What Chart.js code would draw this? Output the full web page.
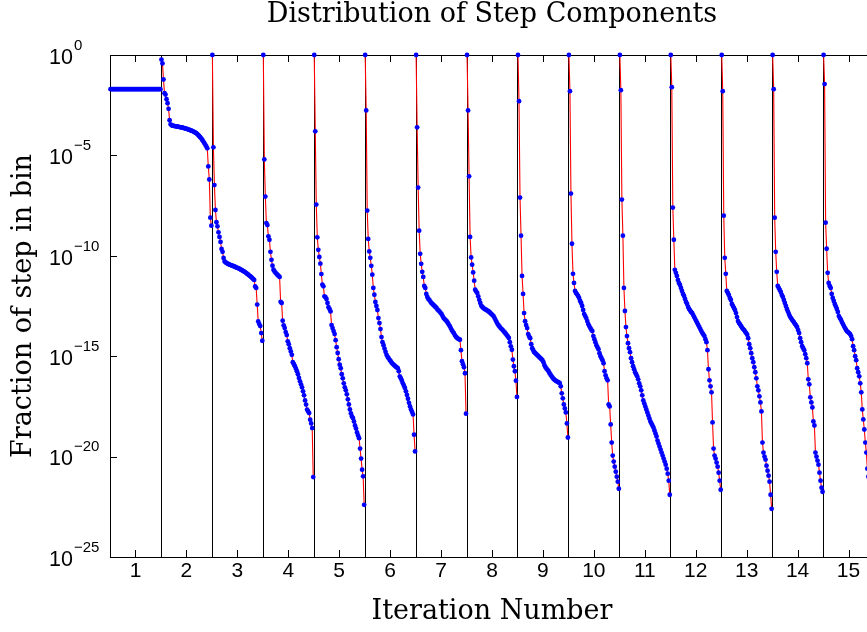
<!DOCTYPE html>
<html>
<head>
<meta charset="utf-8">
<title>Distribution of Step Components</title>
<script src="https://cdn.jsdelivr.net/npm/chart.js@4.4.1/dist/chart.umd.min.js"></script>
<style>
  html, body { margin: 0; padding: 0; overflow: hidden; background: #fff; }
  canvas { display: block; }
</style>
</head>
<body>
<canvas id="stepChart" width="880" height="632"></canvas>
<script>
// bins per iteration; each iteration's sorted bin fractions fill one unit on x
const binsPerIteration = 50;
const iterationNumbers = [1, 2, 3, 4, 5, 6, 7, 8, 9, 10, 11, 12, 13, 14, 15];
const yTickExponents = [0, -5, -10, -15, -20, -25];

// log10 of the fraction of step in each bin
const log10Iter1 = [
  -1.7, -1.7, -1.7, -1.7, -1.7, -1.7, -1.7, -1.7, -1.7, -1.7,
  -1.7, -1.7, -1.7, -1.7, -1.7, -1.7, -1.7, -1.7, -1.7, -1.7,
  -1.7, -1.7, -1.7, -1.7, -1.7, -1.7, -1.7, -1.7, -1.7, -1.7,
  -1.7, -1.7, -1.7, -1.7, -1.7, -1.7, -1.7, -1.7, -1.7, -1.7,
  -1.7, -1.7, -1.7, -1.7, -1.7, -1.7, -1.7, -1.7, -1.7, -1.7,
];
const log10Iter2 = [
  -0.23, -0.42, -1.22, -1.9, -1.97, -2.2, -2.4, -2.68, -3.25, -3.45,
  -3.5, -3.52, -3.53, -3.54, -3.55, -3.56, -3.57, -3.58, -3.59, -3.6,
  -3.61, -3.62, -3.64, -3.65, -3.67, -3.68, -3.7, -3.72, -3.74, -3.76,
  -3.78, -3.8, -3.83, -3.86, -3.89, -3.93, -3.98, -4.03, -4.09, -4.15,
  -4.22, -4.3, -4.38, -4.46, -4.55, -4.65, -5.55, -6.2, -8.1, -8.5,
];
const log10Iter3 = [
  0, -4.6, -6.48, -7.72, -8.33, -8.53, -8.83, -9.06, -9.31, -9.66,
  -9.8, -10.11, -10.28, -10.33, -10.36, -10.39, -10.42, -10.44, -10.46, -10.48,
  -10.5, -10.52, -10.54, -10.57, -10.59, -10.61, -10.63, -10.66, -10.69, -10.72,
  -10.75, -10.78, -10.81, -10.85, -10.89, -10.93, -10.97, -11.01, -11.05, -11.1,
  -11.15, -11.2, -11.53, -11.6, -12.43, -13.27, -13.4, -13.5, -13.85, -14.23,
];
const log10Iter4 = [
  0, -5.2, -7.05, -8.37, -8.47, -9.03, -9.2, -9.8, -10.2, -10.49,
  -10.69, -10.78, -10.84, -10.9, -10.95, -11.0, -11.05, -12.29, -12.35, -13.23,
  -13.46, -13.6, -13.8, -13.95, -14.26, -14.4, -14.6, -14.76, -14.93, -15.3,
  -15.4, -15.5, -15.62, -15.75, -15.9, -16.08, -16.25, -16.4, -16.55, -16.75,
  -16.95, -17.2, -17.41, -17.66, -17.75, -17.83, -18.16, -18.35, -18.58, -21.02,
];
const log10Iter5 = [
  0, -3.8, -7.45, -9.08, -9.7, -10.06, -10.39, -10.91, -11.44, -11.52,
  -12.02, -12.06, -12.15, -12.35, -12.56, -12.65, -12.77, -13.45, -13.6, -13.75,
  -13.9, -14.2, -14.55, -14.84, -15.15, -15.42, -15.6, -15.9, -16.1, -16.35,
  -16.55, -16.7, -16.9, -17.15, -17.4, -17.65, -17.85, -18.0, -18.08, -18.25,
  -18.45, -18.6, -18.8, -18.95, -19.08, -19.6, -20.1, -20.65, -20.98, -22.4,
];
const log10Iter6 = [
  0, -2.76, -7.75, -9.16, -9.78, -10.1, -10.5, -10.94, -11.6, -11.94,
  -12.3, -12.5, -12.7, -13.1, -13.35, -13.65, -14.05, -14.3, -14.45, -14.62,
  -14.78, -14.93, -15.03, -15.1, -15.18, -15.25, -15.32, -15.38, -15.43, -15.47,
  -15.52, -15.56, -15.6, -15.75, -16.0, -16.1, -16.22, -16.35, -16.47, -16.58,
  -16.75, -16.93, -17.12, -17.32, -17.5, -17.65, -17.78, -17.9, -18.91, -19.74,
];
const log10Iter7 = [
  0, -3.6, -6.6, -8.75, -9.9, -10.4, -10.8, -11.05, -11.5, -11.6,
  -11.9, -12.05, -12.15, -12.2, -12.28, -12.35, -12.4, -12.45, -12.5, -12.55,
  -12.6, -12.68, -12.72, -12.78, -12.84, -12.9, -13.0, -13.1, -13.15, -13.2,
  -13.26, -13.33, -13.42, -13.5, -13.6, -13.7, -13.78, -13.85, -13.95, -14.03,
  -14.08, -14.12, -14.15, -14.18, -14.7, -15.25, -15.4, -15.55, -15.85, -17.86,
];
const log10Iter8 = [
  0, -2.76, -6.04, -9.06, -10.08, -10.44, -10.83, -11.24, -11.69, -11.78,
  -11.85, -12.02, -12.19, -12.35, -12.49, -12.55, -12.6, -12.64, -12.67, -12.7,
  -12.73, -12.77, -12.8, -12.86, -12.9, -12.95, -13.0, -13.1, -13.2, -13.3,
  -13.4, -13.47, -13.53, -13.6, -13.65, -13.7, -13.76, -13.82, -13.88, -13.95,
  -14.02, -14.09, -14.3, -14.51, -14.68, -15.17, -15.5, -15.75, -16.22, -17.03,
];
const log10Iter9 = [
  0, -2.3, -7.1, -9.0, -11.0, -11.9, -12.85, -13.26, -13.45, -13.6,
  -13.9, -14.02, -14.1, -14.4, -14.6, -14.7, -14.8, -14.85, -14.9, -14.95,
  -15.0, -15.05, -15.1, -15.15, -15.2, -15.3, -15.45, -15.55, -15.62, -15.68,
  -15.75, -15.85, -15.92, -16.0, -16.07, -16.13, -16.18, -16.22, -16.25, -16.28,
  -16.31, -16.34, -16.5, -16.85, -17.1, -17.4, -17.6, -17.8, -18.35, -19.05,
];
const log10Iter10 = [
  0, -1.8, -6.9, -9.4, -10.9, -11.35, -11.75, -11.85, -11.92, -12.0,
  -12.1, -12.25, -12.35, -12.5, -12.7, -12.9, -13.0, -13.1, -13.25, -13.4,
  -13.5, -13.6, -13.68, -13.75, -14.0, -14.15, -14.3, -14.45, -14.55, -14.65,
  -14.85, -15.0, -15.1, -15.2, -15.35, -15.75, -15.95, -16.1, -16.2, -17.4,
  -17.5, -18.4, -19.3, -19.95, -20.25, -20.5, -20.75, -21.0, -21.25, -21.6,
];
const log10Iter11 = [
  0, -1.75, -7.2, -9.0, -11.6, -12.75, -13.55, -14.0, -14.35, -14.6,
  -14.8, -15.1, -15.3, -15.5, -15.65, -15.8, -15.9, -16.0, -16.15, -16.35,
  -16.5, -16.7, -16.95, -17.2, -17.35, -17.5, -17.65, -17.8, -17.95, -18.1,
  -18.25, -18.35, -18.45, -18.55, -18.7, -18.85, -19.0, -19.2, -19.35, -19.5,
  -19.65, -19.8, -19.95, -20.1, -20.25, -20.4, -20.6, -20.85, -21.2, -21.9,
];
const log10Iter12 = [
  0, -1.6, -7.6, -9.2, -10.7, -10.85, -11.0, -11.2, -11.35, -11.45,
  -11.6, -11.75, -11.9, -12.0, -12.15, -12.3, -12.4, -12.55, -12.65, -12.72,
  -12.8, -12.85, -12.95, -13.05, -13.15, -13.25, -13.35, -13.45, -13.55, -13.65,
  -13.75, -13.85, -13.92, -14.0, -14.15, -14.3, -14.7, -15.65, -16.2, -16.5,
  -16.8, -18.3, -19.6, -19.95, -20.1, -20.3, -20.5, -20.8, -21.2, -21.65,
];
const log10Iter13 = [
  0, -1.8, -8.0, -10.1, -10.9, -11.75, -11.85, -11.95, -12.1, -12.2,
  -12.4, -12.5, -12.6, -12.7, -12.85, -13.05, -13.25, -13.35, -13.42, -13.5,
  -13.58, -13.65, -13.7, -13.78, -13.85, -13.93, -14.1, -14.4, -14.6, -14.85,
  -15.1, -15.3, -15.55, -15.8, -16.1, -16.5, -16.7, -17.0, -17.3, -17.75,
  -19.3, -19.8, -20.0, -20.15, -20.45, -20.7, -20.95, -21.25, -21.9, -22.6,
];
const log10Iter14 = [
  0, -1.7, -8.1, -9.8, -10.8, -11.5, -11.6, -11.7, -11.8, -11.95,
  -12.05, -12.2, -12.35, -12.5, -12.65, -12.78, -12.9, -13.02, -13.1, -13.18,
  -13.25, -13.32, -13.4, -13.47, -13.55, -13.7, -13.85, -14.1, -14.3, -14.5,
  -14.6, -14.7, -14.9, -15.1, -15.35, -16.15, -16.4, -17.05, -17.3, -17.55,
  -18.25, -18.45, -19.8, -20.0, -20.2, -20.4, -20.8, -21.2, -21.55, -21.75,
];
// only the part inside the visible window
const log10Iter15 = [
  0, -1.45, -8.35, -9.65, -10.85, -11.35, -11.5, -11.6, -11.9, -12.1,
  -12.25, -12.4, -12.52, -12.65, -12.8, -13.0, -13.1, -13.18, -13.3, -13.4,
  -13.5, -13.6, -13.68, -13.76, -13.8, -13.85, -13.9, -14.0, -14.15, -14.5,
  -14.7, -15.0, -15.2, -15.6, -15.8, -16.0, -16.35, -16.8, -17.65, -18.15,
  -18.65, -19.3, -19.8, -20.6, -21.0,
];

const iterationLogs = [
  log10Iter1, log10Iter2, log10Iter3, log10Iter4, log10Iter5,
  log10Iter6, log10Iter7, log10Iter8, log10Iter9, log10Iter10,
  log10Iter11, log10Iter12, log10Iter13, log10Iter14, log10Iter15,
];

const yMin = Math.pow(10, yTickExponents[yTickExponents.length - 1]);
const yMax = Math.pow(10, yTickExponents[0]);
const xMin = iterationNumbers[0] - 0.5;
const xMax = iterationNumbers[iterationNumbers.length - 1] + 0.5;

const tickFont = '"Liberation Sans", Arial, sans-serif';
const serifFont = '"DejaVu Serif", serif';

const datasets = iterationLogs.map((logs, i) => ({
  label: `Iteration ${iterationNumbers[i]}`,
  data: logs.map((e, j) => ({
    x: iterationNumbers[i] - 0.5 + (j + 0.5) / binsPerIteration,
    y: Math.pow(10, e),
  })),
  borderColor: '#ff0000',
  borderWidth: 1.1,
  pointRadius: 2.4,
  pointBackgroundColor: '#0000ff',
  pointBorderWidth: 0,
  tension: 0,
  clip: false,
}));

// separators between iterations, inward ticks, 10^n labels
const axisDecor = {
  id: 'axisDecor',
  beforeDatasetsDraw(chart) {
    const { ctx, chartArea, scales } = chart;
    ctx.save();
    ctx.strokeStyle = '#000';
    ctx.lineWidth = 1;
    iterationNumbers.slice(0, -1).forEach((n) => {
      const px = Math.round(scales.x.getPixelForValue(n + 0.5)) + 0.5;
      ctx.beginPath();
      ctx.moveTo(px, chartArea.top);
      ctx.lineTo(px, chartArea.bottom);
      ctx.stroke();
    });
    ctx.restore();
  },
  afterDraw(chart) {
    const { ctx, chartArea, scales } = chart;
    const tick = 7;
    ctx.save();
    ctx.strokeStyle = '#000';
    ctx.lineWidth = 1;
    ctx.beginPath();
    iterationNumbers.forEach((n) => {
      const px = Math.round(scales.x.getPixelForValue(n)) + 0.5;
      ctx.moveTo(px, chartArea.bottom);
      ctx.lineTo(px, chartArea.bottom - tick);
      ctx.moveTo(px, chartArea.top);
      ctx.lineTo(px, chartArea.top + tick);
    });
    yTickExponents.forEach((e) => {
      const py = Math.round(scales.y.getPixelForValue(Math.pow(10, e))) + 0.5;
      ctx.moveTo(chartArea.left, py);
      ctx.lineTo(chartArea.left + tick, py);
      ctx.moveTo(chartArea.right, py);
      ctx.lineTo(chartArea.right - tick, py);
    });
    ctx.stroke();

    ctx.fillStyle = '#000';
    ctx.textAlign = 'left';
    ctx.textBaseline = 'alphabetic';
    const labelX = chartArea.left - 61;
    yTickExponents.forEach((e) => {
      const py = scales.y.getPixelForValue(Math.pow(10, e));
      ctx.font = `21.5px ${tickFont}`;
      ctx.fillText('10', labelX, py + 8.7);
      const w = ctx.measureText('10').width;
      ctx.font = `15px ${tickFont}`;
      ctx.fillText(e < 0 ? '\u2212' + (-e) : String(e), labelX + w + 1, py - 5.3);
    });
    ctx.restore();
  },
};

const hiddenGrid = { display: false, drawTicks: false };
const blackBorder = { display: true, color: '#000', width: 1 };

new Chart(document.getElementById('stepChart'), {
  type: 'line',
  data: { datasets },
  options: {
    responsive: false,
    animation: false,
    events: [],
    layout: { padding: 0 },
    plugins: { legend: { display: false }, tooltip: { enabled: false } },
    scales: {
      x: {
        type: 'linear',
        position: 'bottom',
        min: xMin,
        max: xMax,
        afterBuildTicks: (scale) => { scale.ticks = iterationNumbers.map((v) => ({ value: v })); },
        afterFit: (scale) => { scale.height = 75; },
        grid: hiddenGrid,
        border: blackBorder,
        ticks: {
          autoSkip: false,
          maxRotation: 0,
          padding: 1.4,
          color: '#000',
          font: { family: tickFont, size: 21 },
        },
        title: {
          display: true,
          text: 'Iteration Number',
          color: '#000',
          font: { family: serifFont, size: 27, lineHeight: 1 },
          padding: { top: 0, bottom: 7 },
        },
      },
      x2: {
        type: 'linear',
        position: 'top',
        min: xMin,
        max: xMax,
        afterFit: (scale) => { scale.height = 55; },
        grid: hiddenGrid,
        border: blackBorder,
        ticks: { display: false },
        title: {
          display: true,
          text: 'Distribution of Step Components',
          color: '#000',
          font: { family: serifFont, size: 27, lineHeight: 1 },
          padding: { top: 1.5, bottom: 0 },
        },
      },
      y: {
        type: 'logarithmic',
        position: 'left',
        min: yMin,
        max: yMax,
        afterBuildTicks: (scale) => { scale.ticks = yTickExponents.map((e) => ({ value: Math.pow(10, e) })); },
        afterFit: (scale) => { scale.width = 110; },
        grid: hiddenGrid,
        border: blackBorder,
        ticks: { display: false },
        title: {
          display: true,
          text: 'Fraction of step in bin',
          color: '#000',
          font: { family: serifFont, size: 27, lineHeight: 1 },
          padding: { top: 10, bottom: 0 },
        },
      },
      y2: {
        type: 'logarithmic',
        position: 'right',
        min: yMin,
        max: yMax,
        afterFit: (scale) => { scale.width = 6; },
        grid: hiddenGrid,
        border: blackBorder,
        ticks: { display: false },
      },
    },
  },
  plugins: [axisDecor],
});
</script>
</body>
</html>
